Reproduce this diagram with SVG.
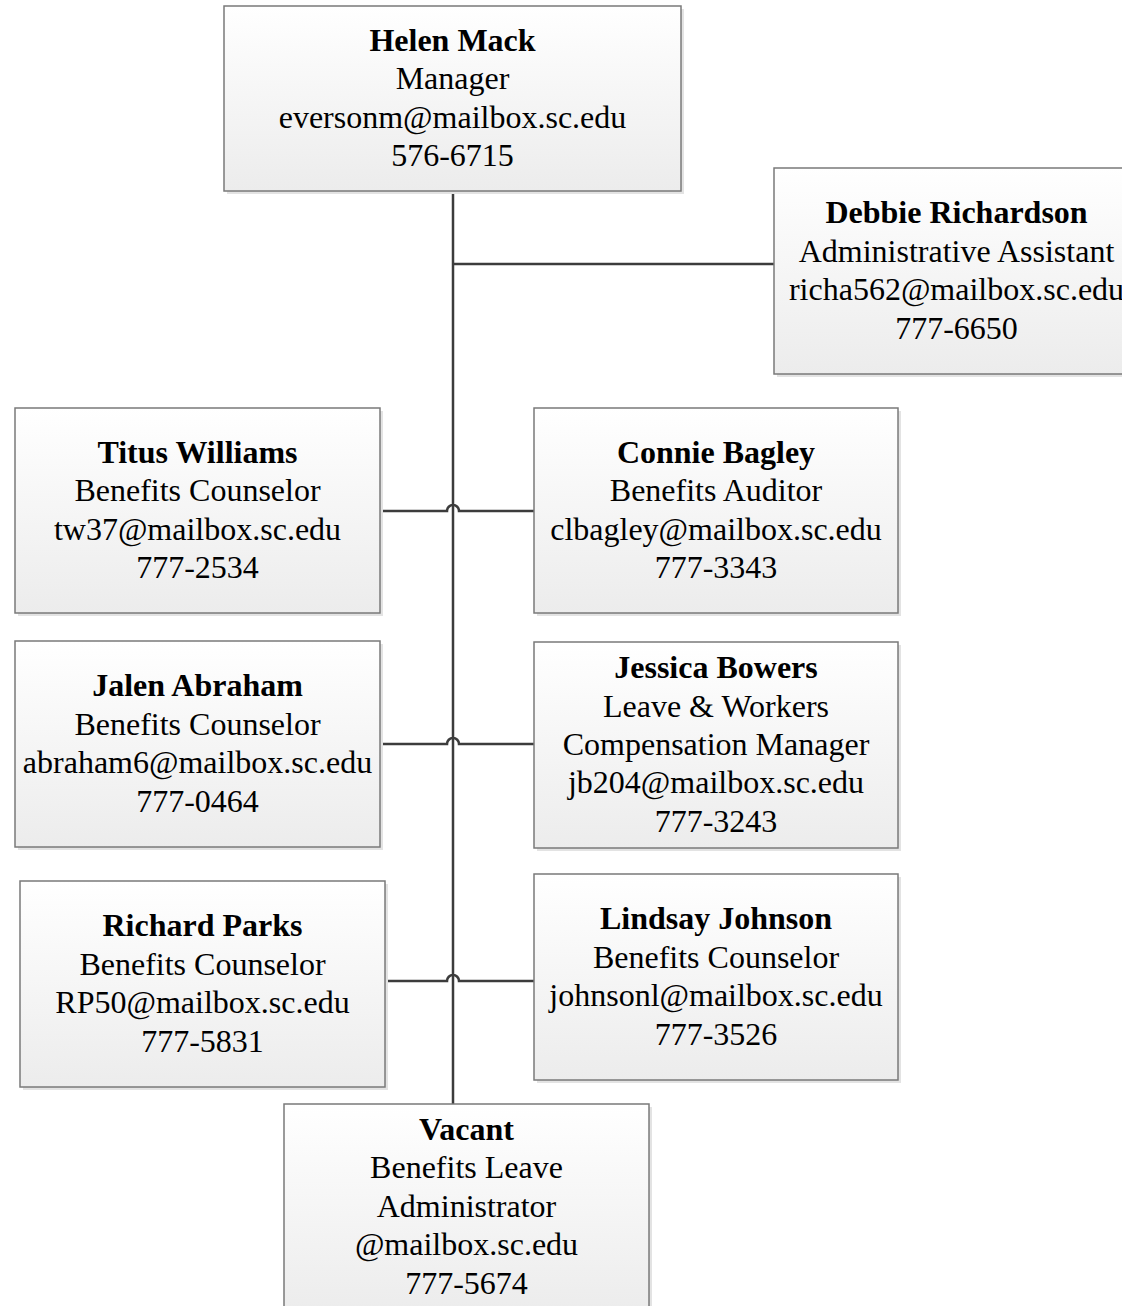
<svg xmlns="http://www.w3.org/2000/svg" width="1122" height="1306" viewBox="0 0 1122 1306">
<defs>
<linearGradient id="g" x1="0" y1="0" x2="0" y2="1">
<stop offset="0" stop-color="#ffffff"/>
<stop offset="1" stop-color="#ececec"/>
</linearGradient>
<style>
.sh{fill:#e3e3e3;}
.bx{fill:url(#g);stroke:#7a7a7a;stroke-width:1.5;}
text{font-family:"Liberation Serif","Times New Roman",serif;font-size:32px;fill:#000;text-anchor:middle;}
.b{font-weight:bold;}
.c{fill:none;stroke:#3c3c3c;stroke-width:2.5;}
</style>
</defs>
<rect width="1122" height="1306" fill="#fff"/>
<g id="connectors">
<path class="c" d="M453,191 V1104"/>
<path class="c" d="M453,264 H774"/>
<path class="c" d="M380,511 H447 A6,6 0 0 1 459,511 H534"/>
<path class="c" d="M380,744 H447 A6,6 0 0 1 459,744 H534"/>
<path class="c" d="M385,981 H447 A6,6 0 0 1 459,981 H534"/>
</g>
<g id="helen">
<rect class="sh" x="227" y="9" width="457" height="185"/>
<rect class="bx" x="224" y="6" width="457" height="185"/>
<text x="452.5" y="51" class="b">Helen Mack</text>
<text x="452.5" y="89.4">Manager</text>
<text x="452.5" y="127.8">eversonm@mailbox.sc.edu</text>
<text x="452.5" y="166.2">576-6715</text>
</g>
<g id="debbie">
<rect class="sh" x="777" y="171" width="365" height="206"/>
<rect class="bx" x="774" y="168" width="365" height="206"/>
<text x="956.5" y="223.4" class="b">Debbie Richardson</text>
<text x="956.5" y="261.8">Administrative Assistant</text>
<text x="956.5" y="300.2">richa562@mailbox.sc.edu</text>
<text x="956.5" y="338.6">777-6650</text>
</g>
<g id="titus">
<rect class="sh" x="18" y="411" width="365" height="205"/>
<rect class="bx" x="15" y="408" width="365" height="205"/>
<text x="197.5" y="462.9" class="b">Titus Williams</text>
<text x="197.5" y="501.3">Benefits Counselor</text>
<text x="197.5" y="539.7">tw37@mailbox.sc.edu</text>
<text x="197.5" y="578.1">777-2534</text>
</g>
<g id="connie">
<rect class="sh" x="537" y="411" width="364" height="205"/>
<rect class="bx" x="534" y="408" width="364" height="205"/>
<text x="716" y="462.9" class="b">Connie Bagley</text>
<text x="716" y="501.3">Benefits Auditor</text>
<text x="716" y="539.7">clbagley@mailbox.sc.edu</text>
<text x="716" y="578.1">777-3343</text>
</g>
<g id="jalen">
<rect class="sh" x="18" y="644" width="365" height="206"/>
<rect class="bx" x="15" y="641" width="365" height="206"/>
<text x="197.5" y="696.4" class="b">Jalen Abraham</text>
<text x="197.5" y="734.8">Benefits Counselor</text>
<text x="197.5" y="773.2">abraham6@mailbox.sc.edu</text>
<text x="197.5" y="811.6">777-0464</text>
</g>
<g id="jessica">
<rect class="sh" x="537" y="645" width="364" height="206"/>
<rect class="bx" x="534" y="642" width="364" height="206"/>
<text x="716" y="678.2" class="b">Jessica Bowers</text>
<text x="716" y="716.6">Leave &amp; Workers</text>
<text x="716" y="755">Compensation Manager</text>
<text x="716" y="793.4">jb204@mailbox.sc.edu</text>
<text x="716" y="831.8">777-3243</text>
</g>
<g id="richard">
<rect class="sh" x="23" y="884" width="365" height="206"/>
<rect class="bx" x="20" y="881" width="365" height="206"/>
<text x="202.5" y="936.4" class="b">Richard Parks</text>
<text x="202.5" y="974.8">Benefits Counselor</text>
<text x="202.5" y="1013.2">RP50@mailbox.sc.edu</text>
<text x="202.5" y="1051.6">777-5831</text>
</g>
<g id="lindsay">
<rect class="sh" x="537" y="877" width="364" height="206"/>
<rect class="bx" x="534" y="874" width="364" height="206"/>
<text x="716" y="929.4" class="b">Lindsay Johnson</text>
<text x="716" y="967.8">Benefits Counselor</text>
<text x="716" y="1006.2">johnsonl@mailbox.sc.edu</text>
<text x="716" y="1044.6">777-3526</text>
</g>
<g id="vacant">
<rect class="sh" x="287" y="1107" width="365" height="208"/>
<rect class="bx" x="284" y="1104" width="365" height="208"/>
<text x="466.5" y="1140" class="b">Vacant</text>
<text x="466.5" y="1178.4">Benefits Leave</text>
<text x="466.5" y="1216.8">Administrator</text>
<text x="466.5" y="1255.2">@mailbox.sc.edu</text>
<text x="466.5" y="1293.6">777-5674</text>
</g>
</svg>
